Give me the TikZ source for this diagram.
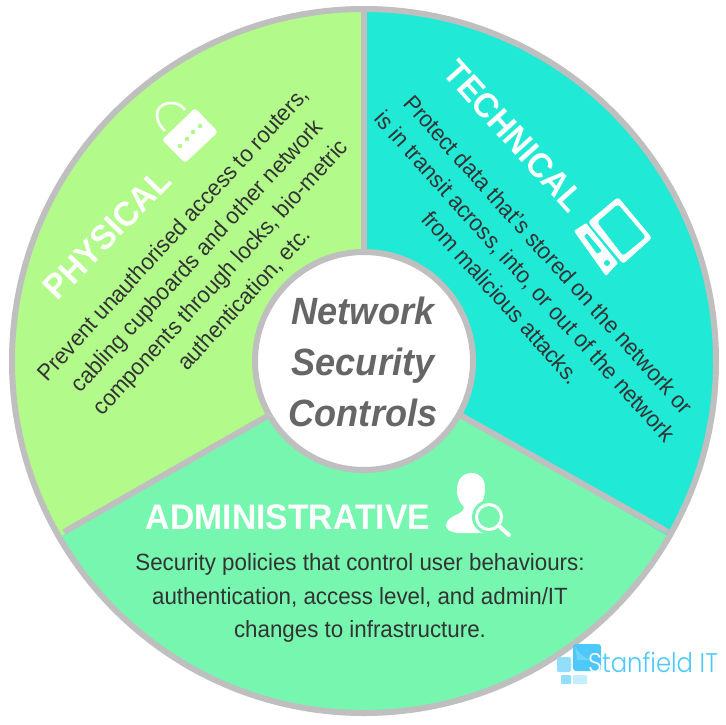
\documentclass[tikz,border=0pt]{standalone}
\usepackage{fontspec}
\setmainfont[FakeStretch=0.95]{Liberation Sans}
\newfontfamily\logofont[FakeStretch=0.9]{Poppins Light}
\definecolor{phys}{HTML}{B2FB8B}
\definecolor{tech}{HTML}{20E9D6}
\definecolor{admin}{HTML}{76F6AF}
\definecolor{rim}{HTML}{BFBFBF}
\definecolor{ink}{HTML}{333333}
\definecolor{mid}{HTML}{666666}
\definecolor{lgA}{HTML}{4CC9FA}
\definecolor{lgAl}{HTML}{6DD3FB}
\definecolor{lgB}{HTML}{93DEFC}
\definecolor{lgC}{HTML}{C4EEFD}
\tikzset{
  x=1pt,y=-1pt,
  rimline/.style={draw=rim,line width=6pt},
  head/.style={text=white,inner sep=0pt,font=\fontsize{35.5}{38}\selectfont\bfseries},
  rothead/.style={text=white,inner sep=0pt,font=\fontsize{34.5}{38}\selectfont\bfseries},
  body/.style={text=ink,inner sep=0pt,align=center,font=\fontsize{23.5}{33.5}\selectfont},
  rotbody/.style={text=ink,inner sep=0pt,align=center,font=\fontsize{23.1}{32}\selectfont},
  centre/.style={text=mid,inner sep=0pt,align=center,font=\fontsize{38}{51}\selectfont\bfseries\itshape},
  icon/.style={fill=white,draw=none}
}
\begin{document}
\begin{tikzpicture}
\useasboundingbox (0,0) rectangle (725,725);
\fill[white] (0,0) rectangle (725,725);
\coordinate (C) at (364,361);
\begin{scope}
  \clip (C) circle[radius=352pt];
  \fill[phys] (C) -- (364,-100) -- (-300,-100) -- (-300,745) -- cycle;
  \fill[tech] (C) -- (364,-100) -- (1000,-100) -- (1000,728) -- cycle;
  \fill[admin] (C) -- (-270,727) -- (-270,800) -- (1000,800) -- (1000,728) -- cycle;
\end{scope}
\coordinate (T) at (364,9);
\coordinate (L) at (64,532);
\coordinate (R) at (668,532);
\draw[rimline] (C) -- (T);
\draw[rimline] (C) -- (L);
\draw[rimline] (C) -- (R);
\draw[rimline] (C) circle[radius=352pt];
\draw[rimline,fill=white] (C) circle[radius=109pt];
\node[centre] (title) at (363,362) {Network\\Security\\Controls};
% Physical
\node[rothead,rotate=46] (phead) at (107,234) {PHYSICAL};
\node[rotbody,rotate=47.5] (pbody) at (209,267) {Prevent unauthorised access to routers,\\cabling cupboards and other network\\components through locks, bio-metric\\authentication, etc.};
% Technical
\node[rothead,rotate=-48] (thead) at (514,136) {TECHNICAL};
\node[rotbody,rotate=-48] (tbody) at (525,276) {Protect data that's stored on the network or\\is in transit across, into, or out of the network\\from malicious attacks.};
% Administrative
\node[head] (ahead) at (288,517) {ADMINISTRATIVE};
\node[body] (abody) at (360,598) {Security policies that control user behaviours:\\authentication, access level, and admin/IT\\changes to infrastructure.};
% lock icon
\draw[white,line width=2.6pt] (165,131) .. controls (150,116) and (158,102) .. (172,103) .. controls (178,103) and (182,106) .. (185,110);
\fill[icon,rounded corners=3pt] (195,108) -- (218,132) -- (185,163) -- (162,140) -- cycle;
\foreach \a/\b in {180/146,187/139,193/132,200/126} \fill[phys] (\a,\b) circle[radius=2.3pt];
% device icon
\fill[icon,rounded corners=3pt,even odd rule] (618,197) -- (652,238) -- (623,264) -- (588,222) -- cycle (597,222) -- (618,204) -- (646,237) -- (623,256) -- cycle;
\fill[icon,rounded corners=1pt,even odd rule] (574,231) -- (586,223) -- (618,263) -- (606,276) -- cycle (584,236) -- (587,233) -- (602,251) -- (597,254) -- cycle;
\fill[tech] (607,263) circle[radius=3pt];
% user icon
\fill[icon] (472,473) .. controls (462,473) and (457,480) .. (457,490) .. controls (457,498) and (460,503) .. (464,507) .. controls (464,515) and (447,515) .. (446,525) .. controls (446,530) and (450,532) .. (458,533) -- (484,533) .. controls (490,520) and (480,510) .. (479,505) .. controls (483,502) and (485,497) .. (485,488) .. controls (485,479) and (480,473) .. (472,473) -- cycle;
\fill[admin] (489,517) circle[radius=17pt];
\draw[white,line width=3pt] (489,517) circle[radius=12.5pt];
\draw[white,line width=4pt,line cap=round] (500,527) -- (509,535);
% logo
\fill[lgA,rounded corners=3pt] (573,644) rectangle (601,671);
\fill[lgAl] (575,646) .. controls (578,652) and (583,657) .. (590,660) -- (577,660) -- cycle;
\fill[lgB,rounded corners=2pt] (557,657) rectangle (571,672);
\fill[lgB,rounded corners=1pt] (561,675) rectangle (571,684);
\fill[lgC,rounded corners=1pt] (573,675) rectangle (587,684);
\node[anchor=base west,inner sep=0pt,text=lgA,font=\logofont\fontsize{27}{27}\selectfont] (logo) at (588,672) {\textcolor{white}{S}tanfield IT};
\end{tikzpicture}
\end{document}
